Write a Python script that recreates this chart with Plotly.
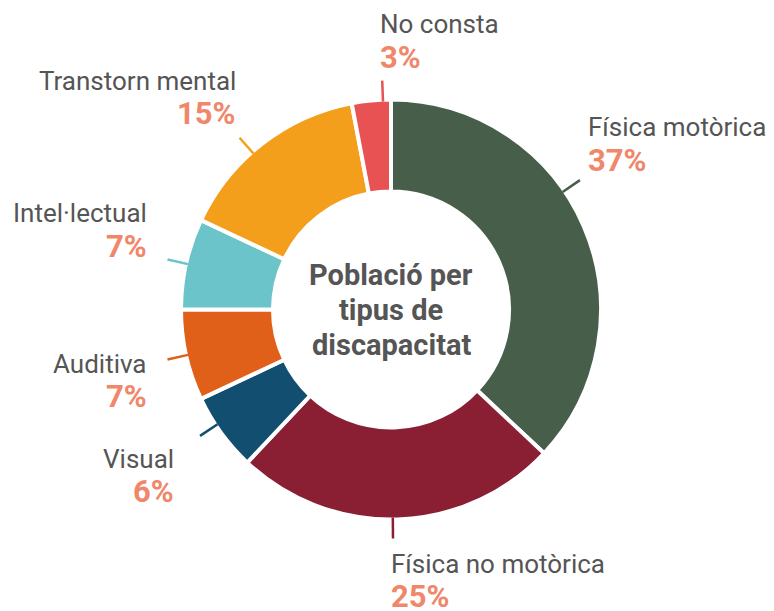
import math
import plotly.graph_objects as go

# ---- data ----
categories = ["Física motòrica", "Física no motòrica", "Visual", "Auditiva",
              "Intel·lectual", "Transtorn mental", "No consta"]
values = [37, 25, 6, 7, 7, 15, 3]
colors = ["#475e4a", "#8a1f34", "#124e70", "#e0601a", "#6bc4c9", "#f49f1c", "#e85253"]
center_lines = ["Població per", "tipus de", "discapacitat"]

# ---- layout / style ----
W, H = 774, 611
CX, CY = 391, 309.5          # donut centre in pixels
R = 210                      # outer radius in pixels
HOLE = 0.562
LEAD_IN, LEAD_OUT = 208, 229  # leader line radii (px)
leader_nudge = [-11, 1.3, 2.5, 0, 0, -3.6, 3.2]  # label-placement nudges (deg)
label_shift = [(-6, -2), (0, -2), (-11, 5), (0, -6), (0, -3), (5, -2), (0, 4)]  # px
FONT = "Roboto, sans-serif"
NAME_COLOR = "#555555"
PCT_COLOR = "#f0876b"


def px(x):
    return x / W


def py(y):
    return 1 - y / H


fig = go.Figure(go.Pie(
    labels=categories, values=values, sort=False, direction="clockwise",
    rotation=0, hole=HOLE, textinfo="none", hoverinfo="label+percent",
    marker=dict(colors=colors, line=dict(color="white", width=4)),
    domain=dict(x=[px(CX - R), px(CX + R)], y=[py(CY + R), py(CY - R)]),
    showlegend=False,
))

total = sum(values)
cum = 0
shapes, annotations = [], []
for name, v, col, nudge, (sx, sy) in zip(categories, values, colors, leader_nudge, label_shift):
    mid = 360 * (cum + v / 2) / total + nudge
    cum += v
    a = math.radians(mid)
    s, c = math.sin(a), math.cos(a)
    x0, y0 = CX + LEAD_IN * s, CY - LEAD_IN * c
    x1, y1 = CX + LEAD_OUT * s, CY - LEAD_OUT * c
    shapes.append(dict(type="line", xref="paper", yref="paper",
                       x0=px(x0), y0=py(y0), x1=px(x1), y1=py(y1),
                       line=dict(color=col, width=2.5)))
    d = 22 + 22 * abs(c)
    bc = (y1 - d if c > 0 else y1 + d) + sy
    g = 24 * s * s - 4
    if s > -0.15:
        ex, anchor = x1 + g + sx, "left"
    else:
        ex, anchor = x1 - g + sx, "right"
    pct = round(100 * v / total)
    annotations.append(dict(x=px(ex), y=py(bc - 16.5), xref="paper", yref="paper",
                            text=name, showarrow=False, xanchor=anchor, yanchor="middle",
                            font=dict(family=FONT, size=26, color=NAME_COLOR)))
    annotations.append(dict(x=px(ex), y=py(bc + 16.5), xref="paper", yref="paper",
                            text=f"<b>{pct}%</b>", showarrow=False, xanchor=anchor,
                            yanchor="middle",
                            font=dict(family=FONT, size=31, color=PCT_COLOR)))

for i, line in enumerate(center_lines):
    annotations.append(dict(x=px(CX), y=py(CY - 35 + 35 * i), xref="paper", yref="paper",
                            text=f"<b>{line}</b>", showarrow=False,
                            xanchor="center", yanchor="middle",
                            font=dict(family=FONT, size=29, color="#555555")))

fig.update_layout(width=W, height=H, margin=dict(l=0, r=0, t=0, b=0),
                  paper_bgcolor="white", plot_bgcolor="white",
                  shapes=shapes, annotations=annotations)

fig.write_html("out.html",
               config={"displayModeBar": False},
               post_script="document.body.style.margin='0';"
                           "document.body.style.overflow='hidden';")
